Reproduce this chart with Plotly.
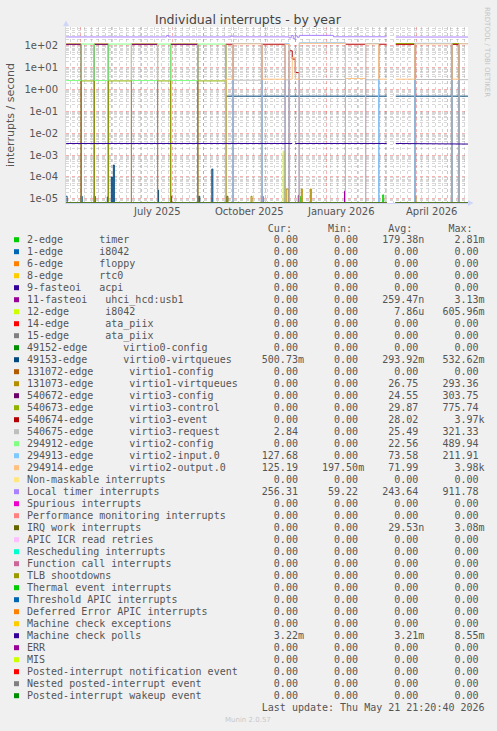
import plotly.graph_objects as go
import pandas as pd
import math

N = None

# ---------------- time segments (piecewise constant data)
BOUNDS = ["2025-04-17", "2025-05-02", "2025-05-15", "2025-05-29", "2025-06-21",
          "2025-07-17", "2025-07-30", "2025-08-26", "2025-09-23", "2025-09-30",
          "2025-10-29", "2025-11-21", "2025-11-25", "2025-11-28", "2025-12-01",
          "2025-12-05", "2026-01-20", "2026-02-09", "2026-02-22", "2026-03-02",
          "2026-03-11", "2026-03-30", "2026-05-06", "2026-05-13", "2026-05-21 21:20"]

# values per segment (24 segments); N = no data
irq540672 = [118, 0, 118, 0, 118, 0, 118, 0, 0, 0, 0, 0, 0, 0, 0, 0, 0, 0, 0, N, 0, 0, 0, 0]
irq131073 = [124, 0, 124, 0, 124, 0, 124, 0, 0, 0, 0, 0, 0, 0, 0, 0, 0, 0, 0, N, 0, 0, 0, 0]
irq294912 = [2.6, 122, 2.6, 122, 2.6, 122, 2.6, 122, 0, 0, 0, 0, 0, 0, 0, 0, 0, 0, 0, N, 0, 0, 0, 0]
irq540673 = [0, 2.5, 0, 2.5, 0, 2.5, 0, 2.5, 0, 0, 0, 0, 0, 0, 0, 0, 0, 0, 0, N, 130, 0, 130, 0]
irq540674 = [0, 0, 0, 0, 0, 0, 0, 0, 120, 0, 120, 0, 60, 25, 6, 0, 120, 0, 120, N, 118, 0, 118, 0]
irq294914 = [0, 0, 0, 0, 0, 0, 0, 0, 3.0, 125, 3.0, 118, 3.0, 30, 3.0, 132, 3.2, 124, 3.0, N, 3.0, 124, 3.0, 125.2]
irq294913 = [0, 0, 0, 0, 0, 0, 0, 0, 0, 130, 0, 128, 0, 0, 0, 140, 0, 130, 0, N, 0, 132, 0, 127.7]
irq540675 = [0, 0, 0, 0, 0, 0, 0, 0, 0, 2.7, 0, 2.8, 0, 0, 0, 2.9, 0, 2.8, 0, N, 0, 2.9, 0, 2.84]
irq49153 = [0, 0, 0, 0, 0, 0, 0, 0, 0.5, 0.5, 0.5, 0.5, 0.5, 0.5, 0.5, 0.5, 0.5, 0.5, 0.5, N, 0.5, 0.5, 0.5, 0.5]
mce_polls = [0.0034, 0.0034, 0.0034, 0.0034, 0.0034, 0.0034, 0.0034, 0.0034, 0.0034, 0.0034, 0.0034, 0.0034,
             0.0034, N, 0.0034, 0.0034, 0.0034, 0.0034, 0.0034, N, 0.0034, 0.0034, 0.0034, 0.0032]
zero_series = [0] * 19 + [N] + [0] * 4

# local timer has its own change points
LT_T = ["2025-04-17", "2025-07-26", "2025-07-28", "2025-09-28", "2025-09-30", "2025-11-25",
        "2025-11-27", "2025-11-29", "2025-12-01", "2025-12-03", "2025-12-05", "2026-01-08",
        "2026-03-02", "2026-03-11", "2026-05-21 21:20"]
LT_V = [258, 300, 258, 285, 260, 235, 300, 215, 290, 250, 305, 262, N, 256]

# short one-day spikes (date, value)
spk_timer = [("2025-12-05", 1.3e-5), ("2026-02-26", 1.5e-5)]
spk_usb = [("2025-05-15", 1.3e-5), ("2025-07-30", 1.3e-5), ("2025-10-29", 1.3e-5),
           ("2025-12-04", 1.4e-5), ("2026-01-19", 2.2e-5)]
spk_i8042b = [("2025-11-19", 1.5e-3)]
spk_49153 = [("2025-04-17", 1.3e-5), ("2025-05-02", 1.3e-5), ("2025-05-28", 1.2e-5),
             ("2025-06-01", 1.0e-4), ("2025-06-03", 3.5e-4), ("2025-07-17", 2.5e-5),
             ("2025-08-27", 1.3e-5), ("2025-09-09", 2.3e-4)]
spk_131073 = [("2025-10-18", 1.3e-5), ("2025-11-22", 2.8e-5), ("2025-11-23", 2.8e-5),
              ("2025-12-07", 2.8e-5), ("2025-12-16", 2.8e-5), ("2026-03-30", 1.3e-5)]
spk_irqwork = [("2025-09-24", 1.3e-5)]

# ---------------- legend table
LABELS = ["2-edge      timer", "1-edge      i8042", "6-edge      floppy", "8-edge      rtc0",
          "9-fasteoi   acpi", "11-fasteoi   uhci_hcd:usb1", "12-edge      i8042",
          "14-edge      ata_piix", "15-edge      ata_piix", "49152-edge      virtio0-config",
          "49153-edge      virtio0-virtqueues", "131072-edge      virtio1-config",
          "131073-edge      virtio1-virtqueues", "540672-edge      virtio3-config",
          "540673-edge      virtio3-control", "540674-edge      virtio3-event",
          "540675-edge      virtio3-request", "294912-edge      virtio2-config",
          "294913-edge      virtio2-input.0", "294914-edge      virtio2-output.0",
          "Non-maskable interrupts", "Local timer interrupts", "Spurious interrupts",
          "Performance monitoring interrupts", "IRQ work interrupts", "APIC ICR read retries",
          "Rescheduling interrupts", "Function call interrupts", "TLB shootdowns",
          "Thermal event interrupts", "Threshold APIC interrupts", "Deferred Error APIC interrupts",
          "Machine check exceptions", "Machine check polls", "ERR", "MIS",
          "Posted-interrupt notification event", "Nested posted-interrupt event",
          "Posted-interrupt wakeup event"]
COLORS = ["#00CC00", "#0066B3", "#FF8000", "#FFCC00", "#330099", "#990099", "#CCFF00", "#FF0000",
          "#808080", "#008F00", "#00487D", "#B35A00", "#B38F00", "#6B006B", "#8FB300", "#B30000",
          "#BEBEBE", "#80FF80", "#80C9FF", "#FFC080", "#FFE680", "#AA80FF", "#EE00CC", "#FF8080",
          "#666600", "#FFBFFF", "#00FFCC", "#CC6699", "#999900", "#00CC00", "#0066B3", "#FF8000",
          "#FFCC00", "#330099", "#990099", "#CCFF00", "#FF0000", "#808080", "#008F00"]
Z = "0.00"
CUR = [Z, Z, Z, Z, Z, Z, Z, Z, Z, Z, "500.73m", Z, Z, Z, Z, Z, "2.84", Z, "127.68", "125.19",
       Z, "256.31", Z, Z, Z, Z, Z, Z, Z, Z, Z, Z, Z, "3.22m", Z, Z, Z, Z, Z]
MIN = [Z] * 19 + ["197.50m", Z, "59.22"] + [Z] * 17
AVG = ["179.38n", Z, Z, Z, Z, "259.47n", "7.86u", Z, Z, Z, "293.92m", Z, "26.75", "24.55", "29.87",
       "28.02", "25.49", "22.56", "73.58", "71.99", Z, "243.64", Z, Z, "29.53n", Z, Z, Z, Z, Z, Z, Z,
       Z, "3.21m", Z, Z, Z, Z, Z]
MAX = ["2.81m", Z, Z, Z, Z, "3.13m", "605.96m", Z, Z, Z, "532.62m", Z, "293.36", "303.75", "775.74",
       "3.97k", "321.33", "489.94", "211.91", "3.98k", Z, "911.78", Z, Z, "3.08m", Z, Z, Z, Z, Z, Z, Z,
       Z, "8.55m", Z, Z, Z, Z, Z]

X_LABELS = ["July 2025", "October 2025", "January 2026", "April 2026"]
X_LABEL_MONTHS = ["2025-07-01", "2025-10-01", "2026-01-01", "2026-04-01"]
Y_TICKS = [1e-5, 1e-4, 1e-3, 1e-2, 1e-1, 1e0, 1e1, 1e2]
Y_TICKTEXT = ["1e-05", "1e-04", "1e-03", "1e-02", "1e-01", "1e+00", "1e+01", "1e+02"]

# ---------------- geometry helpers
W_FIG, H_FIG = 497, 731
L, R, T, B = 66, 468, 27, 203
YLOG = (-5.196, 2.868)
FLOOR = 10 ** YLOG[0]
X0, X1 = "2025-04-16 21:20:40", "2026-05-21 21:20:40"


def pxx(x):
    return (x - L) / (R - L)


def pxy(y):
    return (B - y) / (B - T)


def build_xy(bounds, vals, spikes=()):
    b = [pd.Timestamp(t) for t in bounds]
    pcs = [(b[i], b[i + 1], vals[i]) for i in range(len(vals))]
    for d, v in spikes:
        d0 = pd.Timestamp(d)
        d1 = d0 + pd.Timedelta(days=1)
        new = []
        for a, e, val in pcs:
            if e <= d0 or a >= d1:
                new.append((a, e, val))
                continue
            if a < d0:
                new.append((a, d0, val))
            new.append((max(a, d0), min(e, d1), v))
            if e > d1:
                new.append((d1, e, val))
        pcs = new
    xs, ys = [], []
    for a, e, val in pcs:
        y = None if val is None else (FLOOR if val == 0 else val)
        xs += [a, e]
        ys += [y, y]
    return xs, ys


series_segments = {10: irq49153, 12: irq131073, 13: irq540672, 14: irq540673, 15: irq540674,
                   16: irq540675, 17: irq294912, 18: irq294913, 19: irq294914, 33: mce_polls}
series_spikes = {0: spk_timer, 5: spk_usb, 6: spk_i8042b, 10: spk_49153, 12: spk_131073,
                 24: spk_irqwork}

fig = go.Figure()
for i, lab in enumerate(LABELS):
    if i == 21:
        xs, ys = build_xy(LT_T, LT_V)
    else:
        xs, ys = build_xy(BOUNDS, series_segments.get(i, zero_series), series_spikes.get(i, ()))
    fig.add_trace(go.Scatter(x=xs, y=ys, mode="lines", name=lab,
                             line=dict(color=COLORS[i], width=1), hoverinfo="skip",
                             showlegend=False, connectgaps=False))

# grid helpers
month_starts = pd.date_range("2025-05-01", "2026-05-01", freq="MS")
minor_y = [k * 10 ** e for e in range(-6, 3) for k in range(2, 10)
           if YLOG[0] < math.log10(k * 10 ** e) < YLOG[1]]

MGRID = "rgba(235,70,70,0.42)"
GRID = "rgba(150,150,150,0.38)"
AXIS = "#CFD6F8"
FONT_C = "#555555"

fig.update_layout(
    width=W_FIG, height=H_FIG, autosize=False,
    margin=dict(l=L, r=W_FIG - R, t=T, b=H_FIG - B, pad=0),
    paper_bgcolor="#F0F0F0", plot_bgcolor="#FFFFFF",
    font=dict(family="DejaVu Sans", color=FONT_C, size=10),
    showlegend=False,
    xaxis=dict(type="date", range=[X0, X1], tickmode="array",
               tickvals=list(month_starts), ticktext=[""] * len(month_starts),
               showgrid=True, gridcolor=MGRID, griddash="dot", gridwidth=1,
               ticks="", showline=True, linecolor=AXIS, linewidth=1, zeroline=False,
               minor=dict(dtick=7 * 86400000, tick0="2025-04-21", showgrid=True,
                          gridcolor=GRID, griddash="dot", gridwidth=1, ticks="")),
    yaxis=dict(type="log", range=list(YLOG), tickmode="array", tickvals=Y_TICKS,
               ticktext=Y_TICKTEXT, showgrid=True, gridcolor=MGRID, griddash="dot",
               gridwidth=1, ticks="", showline=True, linecolor=AXIS, linewidth=1,
               zeroline=False, tickfont=dict(size=10, color=FONT_C), ticklabelstandoff=5,
               minor=dict(tickmode="array", tickvals=minor_y, showgrid=True, gridcolor=GRID,
                          griddash="dot", gridwidth=1, ticks="")),
)

ann = []
# title
ann.append(dict(text="Individual interrupts - by year", x=pxx(248), y=pxy(19),
                font=dict(size=12.5, color="#444444")))
# y title
ann.append(dict(text="interrupts / second", x=pxx(10), y=pxy(115), textangle=-90,
                font=dict(size=11, color=FONT_C)))
# watermark
ann.append(dict(text="RRDTOOL / TOBI OETIKER", x=pxx(487), y=pxy(52), textangle=90,
                font=dict(size=7, color="#C4C4C4")))
# x labels centred mid-month
for lab, m in zip(X_LABELS, X_LABEL_MONTHS):
    ann.append(dict(text=lab, x=pd.Timestamp(m) + pd.Timedelta(days=15), xref="x",
                    y=pxy(212), font=dict(size=10, color=FONT_C)))

NB = "\u00a0"


def fmt(v):
    s = v if v[-1].isalpha() else v + NB
    return s.rjust(10, NB)


MONO = "DejaVu Sans Mono"
header = NB * 40 + "Cur:" + NB * 6 + "Min:" + NB * 6 + "Avg:" + NB * 6 + "Max:"
ann.append(dict(text=header, x=pxx(26), y=pxy(228), xanchor="left",
                font=dict(family=MONO, size=10, color=FONT_C)))
shapes = []
for i, lab in enumerate(LABELS):
    yc = 239.7 + 12 * i
    row = lab.replace(" ", NB).ljust(36, NB) + fmt(CUR[i]) + fmt(MIN[i]) + fmt(AVG[i]) + fmt(MAX[i])
    ann.append(dict(text=row, x=pxx(26), y=pxy(yc), xanchor="left",
                    font=dict(family=MONO, size=10, color=FONT_C)))
    shapes.append(dict(type="rect", xref="paper", yref="paper", x0=pxx(14), x1=pxx(19),
                       y0=pxy(yc + 2.5), y1=pxy(yc - 2.5), fillcolor=COLORS[i],
                       line=dict(width=0), layer="above"))
last = "Last update: Thu May 21 21:20:40 2026"
ann.append(dict(text=(NB * 39 + last).replace(" ", NB), x=pxx(26), y=pxy(707.7), xanchor="left",
                font=dict(family=MONO, size=10, color=FONT_C)))
ann.append(dict(text="Munin 2.0.57", x=pxx(248), y=pxy(719.5),
                font=dict(size=7, color="#C8C8C8")))

for a in ann:
    a.setdefault("xref", "paper")
    a.setdefault("yref", "paper")
    a.setdefault("xanchor", "center")
    a.setdefault("yanchor", "middle")
    a["showarrow"] = False
    a["borderpad"] = 0

# axis arrows
shapes.append(dict(type="line", xref="paper", yref="paper", x0=pxx(66), x1=pxx(66),
                   y0=pxy(27), y1=pxy(23), line=dict(color=AXIS, width=1)))
shapes.append(dict(type="path", xref="paper", yref="paper",
                   path=f"M {pxx(63)},{pxy(26)} L {pxx(69)},{pxy(26)} L {pxx(66)},{pxy(20.5)} Z",
                   fillcolor=AXIS, line=dict(width=0)))
shapes.append(dict(type="path", xref="paper", yref="paper",
                   path=f"M {pxx(468)},{pxy(200)} L {pxx(468)},{pxy(206)} L {pxx(473.5)},{pxy(203)} Z",
                   fillcolor=AXIS, line=dict(width=0)))

fig.update_layout(annotations=ann, shapes=shapes)
fig.write_html("out.html", config={"displayModeBar": False, "staticPlot": True},
               post_script="document.body.style.margin='0';document.body.style.background='#F0F0F0';")
